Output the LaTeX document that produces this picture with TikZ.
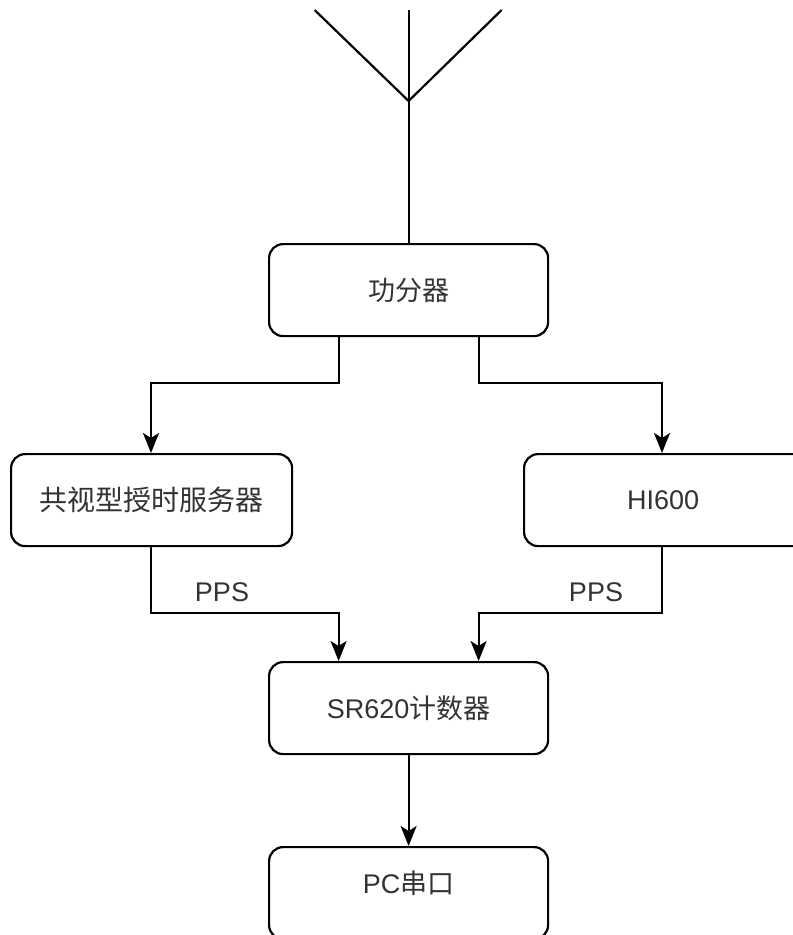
\documentclass[tikz,border=0pt]{standalone}
\usepackage{fontspec}
\setmainfont{Liberation Sans}
\newfontfamily\cjk{Noto Sans CJK SC}
\usetikzlibrary{arrows.meta}
\tikzset{
  box/.style={draw, line width=2.2pt, rounded corners=14pt, minimum width=279pt, minimum height=92pt, inner sep=0pt, anchor=north west},
  conn/.style={line width=2.2pt, -{Stealth[length=20pt,width=16pt,inset=5pt]}},
  wire/.style={line width=2.2pt},
  lbl/.style={text=black!80, inner sep=0pt}
}
\begin{document}
\begin{tikzpicture}[x=1pt,y=-1pt,font=\fontsize{27}{32}\selectfont]
\useasboundingbox (0,0) rectangle (793,935);
% boxes
\node[box] (split) at (268,243) {};
\node[lbl] (t1) at (split.center) {\cjk 功分器};
\node[box, minimum width=281pt] (gps) at (10,453) {};
\node[lbl] (t2) at (gps.center) {\cjk\fontsize{28}{32}\selectfont 共视型授时服务器};
\node[box, minimum width=290pt] (hi) at (523,453) {};
\node[lbl] (t3) at ([xshift=-6pt]hi.center) {HI600};
\node[box] (sr) at (268,661) {};
\node[lbl] (t4) at (sr.center) {SR620{\cjk 计数器}};
\node[box] (pc) at (268,846) {};
\node[lbl] (t5) at ([yshift=10pt]pc.center) {PC{\cjk 串口}};
% antenna
\coordinate (apex) at (split.north |- 0,101);
\coordinate (tc) at (split.north |- 0,10);
\coordinate (tl) at ([xshift=-94pt]tc);
\coordinate (tr) at ([xshift=93pt]tc);
\draw[wire] (tl) -- (apex) -- (tr);
\draw[wire] (tc) -- (split.north);
% connectors
\draw[conn] ([xshift=-70pt]split.south) -- ++(0,46) -| (gps.north -| 151,0);
\draw[conn] ([xshift=70pt]split.south) -- ++(0,46) -| (662,453);
\draw[conn] (gps.south -| 151,0) -- (151,613) -| ([xshift=-70pt]sr.north);
\draw[conn] (662,545) -- (662,613) -| ([xshift=70pt]sr.north);
\draw[conn] (sr.south) -- (pc.north);
% labels
\node[lbl] (pps1) at (222,592) {PPS};
\node[lbl] (pps2) at (596,592) {PPS};
\end{tikzpicture}
\end{document}
